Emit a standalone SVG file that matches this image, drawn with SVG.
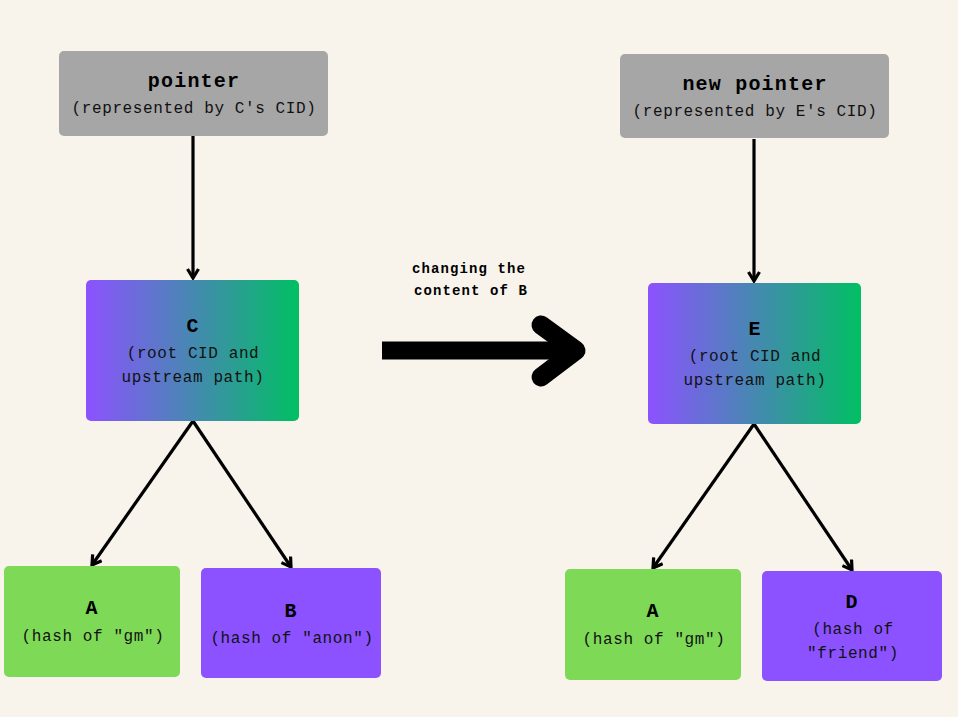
<svg xmlns="http://www.w3.org/2000/svg" width="958" height="717" viewBox="0 0 958 717">
<defs>
<linearGradient id="grad" x1="0" y1="0" x2="1" y2="0">
<stop offset="0" stop-color="#8c52ff"/>
<stop offset="1" stop-color="#00bf63"/>
</linearGradient>
<marker id="ah" viewBox="0 0 14 14" refX="11" refY="7" markerWidth="14" markerHeight="14" markerUnits="userSpaceOnUse" orient="auto">
<path d="M2,1.5 L11,7 L2,12.5" fill="none" stroke="#000" stroke-width="3.2"/>
</marker>
<style>
.t{font-family:"Liberation Mono","DejaVu Sans Mono",monospace;font-weight:bold;font-size:20px;letter-spacing:1.2px;fill:#000;text-anchor:middle}
.s{font-family:"Liberation Mono","DejaVu Sans Mono",monospace;font-size:16px;letter-spacing:0.6px;fill:#111;text-anchor:middle}
.l{font-family:"Liberation Mono","DejaVu Sans Mono",monospace;font-weight:bold;font-size:14px;letter-spacing:1.1px;fill:#000;text-anchor:middle}
.c{fill:none;stroke:#000;stroke-width:3.2;marker-end:url(#ah)}
</style>
</defs>
<rect width="958" height="717" fill="#f8f4ec"/>
<g id="connectors">
<line class="c" x1="193" y1="136" x2="193" y2="278"/>
<line class="c" x1="754" y1="139" x2="754" y2="281"/>
<line class="c" x1="193" y1="421" x2="92" y2="565"/>
<line class="c" x1="193" y1="421" x2="291" y2="567"/>
<line class="c" x1="754" y1="424" x2="653" y2="568"/>
<line class="c" x1="754" y1="424" x2="852" y2="570"/>
<g id="big-arrow">
<line x1="382" y1="350.5" x2="572" y2="350.5" stroke="#000" stroke-width="18"/>
<path d="M541,325 L576,350.5 L541,377" fill="none" stroke="#000" stroke-width="19" stroke-linecap="round" stroke-linejoin="round"/>
<text class="l" x="469" y="273">changing the</text>
<text class="l" x="471" y="295">content of B</text>
</g>
</g>
<g id="pointer">
<rect x="59" y="51" width="269" height="85" rx="5" fill="#a6a6a6"/>
<text class="t" x="194" y="87">pointer</text>
<text class="s" x="194" y="113">(represented by C's CID)</text>
</g>
<g id="new-pointer">
<rect x="620" y="54" width="269" height="84" rx="5" fill="#a6a6a6"/>
<text class="t" x="755" y="90">new pointer</text>
<text class="s" x="755" y="116">(represented by E's CID)</text>
</g>
<g id="C">
<rect x="86" y="280" width="213" height="141" rx="5" fill="url(#grad)"/>
<text class="t" x="193" y="332">C</text>
<text class="s" x="193" y="358">(root CID and</text>
<text class="s" x="193" y="382">upstream path)</text>
</g>
<g id="E">
<rect x="648" y="283" width="213" height="141" rx="5" fill="url(#grad)"/>
<text class="t" x="755" y="335">E</text>
<text class="s" x="755" y="361">(root CID and</text>
<text class="s" x="755" y="385">upstream path)</text>
</g>
<g id="A1">
<rect x="4" y="566" width="176" height="111" rx="5" fill="#7ed957"/>
<text class="t" x="92" y="614">A</text>
<text class="s" x="93" y="641">(hash of "gm")</text>
</g>
<g id="B">
<rect x="201" y="568" width="180" height="110" rx="5" fill="#8c52ff"/>
<text class="t" x="291" y="617">B</text>
<text class="s" x="292" y="643">(hash of "anon")</text>
</g>
<g id="A2">
<rect x="565" y="569" width="176" height="111" rx="5" fill="#7ed957"/>
<text class="t" x="653" y="617">A</text>
<text class="s" x="654" y="644">(hash of "gm")</text>
</g>
<g id="D">
<rect x="762" y="571" width="180" height="110" rx="5" fill="#8c52ff"/>
<text class="t" x="852" y="608">D</text>
<text class="s" x="853" y="634">(hash of</text>
<text class="s" x="853" y="658">"friend")</text>
</g>
</svg>
